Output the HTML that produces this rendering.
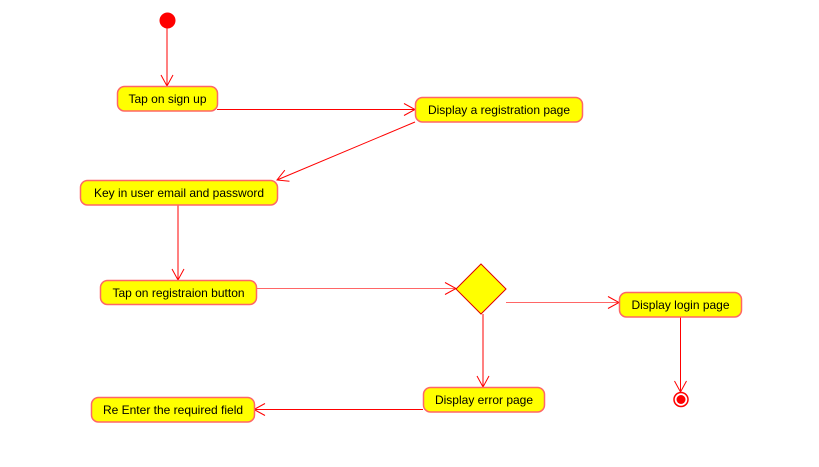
<!DOCTYPE html>
<html><head><meta charset="utf-8"><style>
html,body{margin:0;padding:0;background:#fff;}
svg{display:block;}
text{font-family:"Liberation Sans",sans-serif;font-size:12px;fill:#000;}
</style></head><body>
<svg width="819" height="467" viewBox="0 0 819 467" xmlns="http://www.w3.org/2000/svg">
<defs>
<marker id="a" markerWidth="14" markerHeight="14" refX="12" refY="7" orient="auto" markerUnits="userSpaceOnUse">
<path d="M1,1 L12,7 L1,13" fill="none" stroke="#f00" stroke-width="1"/>
</marker>
</defs>
<g stroke="#f00" stroke-width="1" fill="none" marker-end="url(#a)">
<line x1="167" y1="28" x2="167" y2="86"/>
<line x1="217" y1="109.5" x2="415" y2="109.5"/>
<line x1="415" y1="122" x2="277" y2="180"/>
<line x1="178" y1="205" x2="178" y2="280"/>
<line x1="256" y1="288.5" x2="456" y2="288.5" stroke="#f66"/>
<line x1="506" y1="302.5" x2="619" y2="302.5" stroke="#f66"/>
<line x1="483" y1="314" x2="483" y2="387"/>
<line x1="423" y1="409.5" x2="254" y2="409.5"/>
<line x1="680.5" y1="317" x2="680.5" y2="392"/>
</g>
<circle cx="167.5" cy="20.5" r="8" fill="#f00"/>
<circle cx="681" cy="399.5" r="7" fill="#fff" stroke="#f00" stroke-width="1.5"/>
<circle cx="681" cy="399.5" r="4.5" fill="#f00"/>
<polygon points="481,264 506,289 481,314 456,289" fill="#ff0" stroke="#d00" stroke-width="1"/>
<g fill="#ff0" stroke="#f66" stroke-width="1.5">
<rect x="117.5" y="86.5" width="100" height="24.5" rx="7"/>
<rect x="415.5" y="97.5" width="167" height="24.5" rx="7"/>
<rect x="80.5" y="180.5" width="197" height="24.5" rx="7"/>
<rect x="100.5" y="280.5" width="156" height="24" rx="7"/>
<rect x="619.5" y="292.5" width="122" height="24.5" rx="7"/>
<rect x="423.5" y="387.5" width="121" height="24.5" rx="7"/>
<rect x="91.5" y="397.5" width="163" height="24.5" rx="7"/>
</g>
<g text-anchor="middle">
<text x="167.5" y="103">Tap on sign up</text>
<text x="499" y="114">Display a registration page</text>
<text x="179" y="197">Key in user email and password</text>
<text x="178.5" y="297">Tap on registraion button</text>
<text x="680.5" y="309">Display login page</text>
<text x="484" y="404">Display error page</text>
<text x="173" y="414">Re Enter the required field</text>
</g>
</svg>
</body></html>
